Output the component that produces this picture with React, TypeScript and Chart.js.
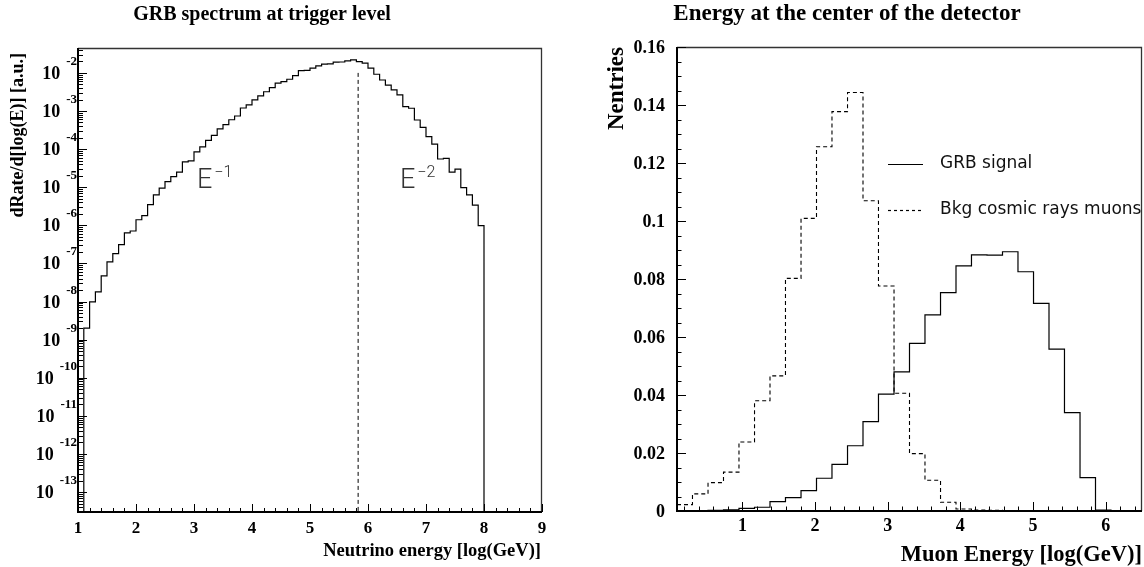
import React, { useEffect, useRef } from 'react';
import { Chart, registerables } from 'chart.js';
Chart.register(...registerables);

// ---------- Left panel: GRB spectrum ----------
const LEFT_TITLE = 'GRB spectrum at trigger level';
const LEFT_X_TITLE = 'Neutrino energy [log(GeV)]';
const LEFT_Y_TITLE = 'dRate/d[log(E)] [a.u.]';
const LEFT_BIN_EDGES = [
  1.0, 1.1, 1.2, 1.3, 1.4, 1.5, 1.6, 1.7, 1.8, 1.9,
  2.0, 2.1, 2.2, 2.3, 2.4, 2.5, 2.6, 2.7, 2.8, 2.9,
  3.0, 3.1, 3.2, 3.3, 3.4, 3.5, 3.6, 3.7, 3.8, 3.9,
  4.0, 4.1, 4.2, 4.3, 4.4, 4.5, 4.6, 4.7, 4.8, 4.9,
  5.0, 5.1, 5.2, 5.3, 5.4, 5.5, 5.6, 5.7, 5.8, 5.9,
  6.0, 6.1, 6.2, 6.3, 6.4, 6.5, 6.6, 6.7, 6.8, 6.9,
  7.0, 7.1, 7.2, 7.3, 7.4, 7.5, 7.6, 7.7, 7.8, 7.9,
  8.0,
];
const LEFT_RATES = [
  0, 2.0e-9, 9.8e-9, 1.8e-8, 4.7e-8, 1.1e-7, 1.8e-7, 3.1e-7, 6.3e-7, 7.1e-7,
  1.4e-6, 1.8e-6, 3.5e-6, 6.3e-6, 9.5e-6, 1.4e-5, 1.9e-5, 2.5e-5, 4.6e-5, 4.9e-5,
  8.5e-5, 1.15e-4, 1.7e-4, 2.3e-4, 3.4e-4, 4.4e-4, 5.9e-4, 7.4e-4, 1.2e-3, 1.45e-3,
  1.95e-3, 2.5e-3, 3.2e-3, 4.1e-3, 5.4e-3, 5.9e-3, 6.8e-3, 8.5e-3, 1.14e-2, 1.16e-2,
  1.33e-2, 1.53e-2, 1.69e-2, 1.72e-2, 1.91e-2, 1.93e-2, 2.07e-2, 2.19e-2, 1.98e-2, 1.80e-2,
  1.33e-2, 9.2e-3, 6.5e-3, 4.8e-3, 3.6e-3, 2.65e-3, 1.30e-3, 1.18e-3, 5.8e-4, 3.7e-4,
  2.13e-4, 1.35e-4, 5.5e-5, 5.7e-5, 2.5e-5, 3.0e-5, 9.8e-6, 6.3e-6, 3.4e-6, 9.8e-7,
];
const LEFT_X_TICKS = [1, 2, 3, 4, 5, 6, 7, 8, 9];
const LEFT_Y_EXPONENTS = [-2, -3, -4, -5, -6, -7, -8, -9, -10, -11, -12, -13];
const LEFT_X_MIN = 1;
const LEFT_X_MAX = 9;
const LEFT_Y_MIN = 3.0e-14;
const LEFT_Y_MAX = 4.5e-2;
const LEFT_MARKER_ENERGY = 5.83;
const LEFT_MARKER_TOP = 1e-2;
const LEFT_NOTES = [
  { base: 'E', sup: '\u22121', x: 3.05, y: 9.5e-6 },
  { base: 'E', sup: '\u22122', x: 6.55, y: 9.5e-6 },
];

// ---------- Right panel: muon energy ----------
const RIGHT_TITLE = 'Energy at the center of the detector';
const RIGHT_X_TITLE = 'Muon Energy [log(GeV)]';
const RIGHT_Y_TITLE = 'Nentries';
const RIGHT_BIN_EDGES = [
  0.1, 0.313, 0.527, 0.74, 0.953, 1.167, 1.38, 1.593, 1.807, 2.02,
  2.233, 2.447, 2.66, 2.873, 3.087, 3.3, 3.513, 3.727, 3.94, 4.153,
  4.367, 4.58, 4.793, 5.007, 5.22, 5.433, 5.647, 5.86, 6.073, 6.287,
  6.5,
];
const RIGHT_SIGNAL = [
  0, 0.0001, 0.0002, 0.0004, 0.0009, 0.0013, 0.0032, 0.0046, 0.007, 0.0113,
  0.0161, 0.0225, 0.0308, 0.0403, 0.048, 0.0578, 0.0676, 0.0753, 0.0845, 0.0883,
  0.0882, 0.0894, 0.0825, 0.0716, 0.0558, 0.0339, 0.0115, 0.0003, 0, 0,
];
const RIGHT_BKG = [
  0.0022, 0.0059, 0.0098, 0.0134, 0.0238, 0.038, 0.0466, 0.0802, 0.1009, 0.1256,
  0.1377, 0.1443, 0.107, 0.0776, 0.0406, 0.0198, 0.0106, 0.003, 0.0007, 0.0003,
  0.0002, 0, 0, 0, 0, 0, 0, 0, 0, 0,
];
const RIGHT_X_TICKS = [1, 2, 3, 4, 5, 6];
const RIGHT_Y_TICKS = [0, 0.02, 0.04, 0.06, 0.08, 0.1, 0.12, 0.14, 0.16];
const RIGHT_Y_LABELS = ['0', '0.02', '0.04', '0.06', '0.08', '0.1', '0.12', '0.14', '0.16'];
const RIGHT_X_MIN = 0.1;
const RIGHT_X_MAX = 6.5;
const RIGHT_Y_MIN = 0;
const RIGHT_Y_MAX = 0.16;
const LEGEND_LABELS = ['GRB signal', 'Bkg cosmic rays muons'];

const SERIF = '"Liberation Serif", "DejaVu Serif", serif';
const SANS = '"DejaVu Sans", "Liberation Sans", sans-serif';
const LOG_FLOOR = 1e-20;

function makeHist(edges: number[], values: number[], floor: number) {
  const pts = values.map((v, i) => ({ x: edges[i], y: v > 0 ? v : floor }));
  pts.push({ x: edges[edges.length - 1], y: floor });
  return pts;
}

function seg(ctx: CanvasRenderingContext2D, x1: number, y1: number, x2: number, y2: number) {
  ctx.beginPath();
  ctx.moveTo(x1, y1);
  ctx.lineTo(x2, y2);
  ctx.stroke();
}

function drawFrame(ctx: CanvasRenderingContext2D, a: any) {
  ctx.strokeStyle = '#333';
  ctx.lineWidth = 1.3;
  ctx.beginPath();
  ctx.moveTo(a.left, a.top + 0.5);
  ctx.lineTo(a.right - 0.5, a.top + 0.5);
  ctx.lineTo(a.right - 0.5, a.bottom);
  ctx.stroke();
  ctx.strokeStyle = '#000';
  ctx.lineWidth = 2;
  ctx.beginPath();
  ctx.moveTo(a.left, a.top);
  ctx.lineTo(a.left, a.bottom);
  ctx.lineTo(a.right, a.bottom);
  ctx.stroke();
}

function drawLeftDecor(chart: any) {
  const { ctx, chartArea: a } = chart;
  const xs = chart.scales.x;
  const ys = chart.scales.y;
  ctx.save();
  drawFrame(ctx, a);
  ctx.strokeStyle = '#000';
  ctx.lineWidth = 1;
  // x ticks
  for (let i = 0; i < LEFT_X_TICKS.length; i++) {
    const v = LEFT_X_TICKS[i];
    const px = Math.round(xs.getPixelForValue(v)) + 0.5;
    seg(ctx, px, a.bottom, px, a.bottom - 8);
    if (i < LEFT_X_TICKS.length - 1) {
      for (let k = 1; k < 5; k++) {
        const pm = Math.round(xs.getPixelForValue(v + k * 0.2)) + 0.5;
        seg(ctx, pm, a.bottom, pm, a.bottom - 4);
      }
    }
  }
  // y ticks (log)
  for (let e = -14; e <= -2; e++) {
    for (let k = 1; k <= 9; k++) {
      const v = k * Math.pow(10, e);
      if (v < LEFT_Y_MIN || v > LEFT_Y_MAX) continue;
      const py = Math.round(ys.getPixelForValue(v)) + 0.5;
      seg(ctx, a.left, py, a.left + (k === 1 ? 9 : 5), py);
    }
  }
  // labels
  ctx.fillStyle = '#000';
  ctx.textBaseline = 'alphabetic';
  ctx.textAlign = 'center';
  ctx.font = `bold 17px ${SERIF}`;
  for (const v of LEFT_X_TICKS) {
    ctx.fillText(String(v), xs.getPixelForValue(v), a.bottom + 21);
  }
  for (const e of LEFT_Y_EXPONENTS) {
    const py = ys.getPixelForValue(Math.pow(10, e));
    ctx.textAlign = 'right';
    ctx.font = `bold 13px ${SERIF}`;
    const es = String(e);
    ctx.fillText(es, a.left - 1, py - 8);
    const ew = ctx.measureText(es).width;
    ctx.font = `bold 18px ${SERIF}`;
    ctx.fillText('10', a.left - 1 - ew - 6, py + 6);
  }
  // titles
  ctx.textAlign = 'center';
  ctx.font = `bold 20px ${SERIF}`;
  ctx.fillText(LEFT_TITLE, 262, 20);
  ctx.textAlign = 'right';
  ctx.font = `bold 18.5px ${SERIF}`;
  ctx.fillText(LEFT_X_TITLE, a.right - 1, a.bottom + 44);
  ctx.save();
  ctx.translate(23, a.top + 5);
  ctx.rotate(-Math.PI / 2);
  ctx.textAlign = 'right';
  ctx.font = `bold 18px ${SERIF}`;
  ctx.fillText(LEFT_Y_TITLE, 0, 0);
  ctx.restore();
  // E^-n annotations
  ctx.fillStyle = '#333';
  ctx.textAlign = 'left';
  for (const n of LEFT_NOTES) {
    const px = xs.getPixelForValue(n.x);
    const py = ys.getPixelForValue(n.y);
    ctx.font = `300 27px Roboto, ${SANS}`;
    ctx.fillText(n.base, px, py);
    const bw = ctx.measureText(n.base).width;
    ctx.font = `300 16px Roboto, ${SANS}`;
    ctx.fillText(n.sup, px + bw + 2, py - 11);
  }
  ctx.restore();
}

function drawRightDecor(chart: any) {
  const { ctx, chartArea: a } = chart;
  const xs = chart.scales.x;
  const ys = chart.scales.y;
  ctx.save();
  drawFrame(ctx, a);
  ctx.strokeStyle = '#000';
  ctx.lineWidth = 1;
  // x ticks every 0.2, long at integers
  for (let k = 1; k * 0.2 <= RIGHT_X_MAX + 1e-9; k++) {
    const v = k * 0.2;
    if (v < RIGHT_X_MIN) continue;
    const major = k % 5 === 0;
    const px = Math.round(xs.getPixelForValue(v)) + 0.5;
    seg(ctx, px, a.bottom, px, a.bottom - (major ? 9 : 4.5));
  }
  // y ticks every 0.005, long every 0.02
  for (let k = 0; k <= 32; k++) {
    const v = k * 0.005;
    const major = k % 4 === 0;
    const py = Math.round(ys.getPixelForValue(v)) + 0.5;
    seg(ctx, a.left, py, a.left + (major ? 9 : 4.5), py);
  }
  ctx.fillStyle = '#000';
  ctx.textBaseline = 'alphabetic';
  ctx.textAlign = 'center';
  ctx.font = `bold 18px ${SERIF}`;
  for (const v of RIGHT_X_TICKS) {
    ctx.fillText(String(v), xs.getPixelForValue(v), a.bottom + 20);
  }
  ctx.textAlign = 'right';
  ctx.textBaseline = 'middle';
  RIGHT_Y_TICKS.forEach((v, i) => {
    ctx.fillText(RIGHT_Y_LABELS[i], a.left - 12, ys.getPixelForValue(v) + 1);
  });
  ctx.textBaseline = 'alphabetic';
  // titles
  ctx.textAlign = 'center';
  ctx.font = `bold 23px ${SERIF}`;
  ctx.fillText(RIGHT_TITLE, 275, 20);
  ctx.textAlign = 'right';
  ctx.font = `bold 22.5px ${SERIF}`;
  ctx.fillText(RIGHT_X_TITLE, a.right, a.bottom + 50);
  ctx.save();
  ctx.translate(51, a.top);
  ctx.rotate(-Math.PI / 2);
  ctx.textAlign = 'right';
  ctx.font = `bold 23px ${SERIF}`;
  ctx.fillText(RIGHT_Y_TITLE, 0, 0);
  ctx.restore();
  // legend
  const lx = 316;
  const rows = [164, 210];
  ctx.lineWidth = 1.2;
  ctx.strokeStyle = '#000';
  seg(ctx, lx, rows[0] + 0.5, lx + 35, rows[0] + 0.5);
  ctx.setLineDash([3, 3]);
  seg(ctx, lx, rows[1] + 0.5, lx + 35, rows[1] + 0.5);
  ctx.setLineDash([]);
  ctx.fillStyle = '#111';
  ctx.textAlign = 'left';
  ctx.textBaseline = 'middle';
  ctx.font = `17px ${SANS}`;
  LEGEND_LABELS.forEach((t, i) => ctx.fillText(t, lx + 52, rows[i]));
  ctx.restore();
}

export default function App() {
  const leftRef = useRef<HTMLCanvasElement>(null);
  const rightRef = useRef<HTMLCanvasElement>(null);

  useEffect(() => {
    const left = new Chart(leftRef.current as HTMLCanvasElement, {
      type: 'line',
      data: {
        datasets: [
          {
            data: makeHist(LEFT_BIN_EDGES, LEFT_RATES, LOG_FLOOR),
            stepped: 'before',
            borderColor: '#000',
            borderWidth: 1.2,
            pointRadius: 0,
            fill: false,
          },
          {
            data: [
              { x: LEFT_MARKER_ENERGY, y: LEFT_MARKER_TOP },
              { x: LEFT_MARKER_ENERGY, y: LOG_FLOOR },
            ],
            borderColor: '#000',
            borderWidth: 1,
            borderDash: [4, 3],
            pointRadius: 0,
            fill: false,
          },
        ],
      } as any,
      options: {
        responsive: false,
        animation: false,
        devicePixelRatio: 1,
        events: [],
        layout: { padding: { left: 78, top: 48, right: 30, bottom: 55 } },
        scales: {
          x: { type: 'linear', min: LEFT_X_MIN, max: LEFT_X_MAX, display: false },
          y: { type: 'logarithmic', min: LEFT_Y_MIN, max: LEFT_Y_MAX, display: false, bounds: 'data' } as any,
        },
        plugins: { legend: { display: false }, tooltip: { enabled: false } },
      },
      plugins: [{ id: 'leftDecor', afterDraw: drawLeftDecor }],
    });

    const right = new Chart(rightRef.current as HTMLCanvasElement, {
      type: 'line',
      data: {
        datasets: [
          {
            data: makeHist(RIGHT_BIN_EDGES, RIGHT_BKG, 0),
            stepped: 'before',
            borderColor: '#000',
            borderWidth: 1.1,
            borderDash: [4, 3],
            pointRadius: 0,
            fill: false,
          },
          {
            data: makeHist(RIGHT_BIN_EDGES, RIGHT_SIGNAL, 0),
            stepped: 'before',
            borderColor: '#000',
            borderWidth: 1.2,
            pointRadius: 0,
            fill: false,
          },
        ],
      } as any,
      options: {
        responsive: false,
        animation: false,
        devicePixelRatio: 1,
        events: [],
        layout: { padding: { left: 105, top: 47, right: 2, bottom: 56 } },
        scales: {
          x: { type: 'linear', min: RIGHT_X_MIN, max: RIGHT_X_MAX, display: false },
          y: { type: 'linear', min: RIGHT_Y_MIN, max: RIGHT_Y_MAX, display: false },
        },
        plugins: { legend: { display: false }, tooltip: { enabled: false } },
      },
      plugins: [{ id: 'rightDecor', afterDraw: drawRightDecor }],
    });

    return () => {
      left.destroy();
      right.destroy();
    };
  }, []);

  return (
    <div
      style={{
        position: 'fixed',
        left: 0,
        top: 0,
        width: 1144,
        height: 567,
        background: '#fff',
        overflow: 'hidden',
      }}
    >
      <canvas ref={leftRef} width={572} height={567} style={{ position: 'absolute', left: 0, top: 0 }} />
      <canvas ref={rightRef} width={572} height={567} style={{ position: 'absolute', left: 572, top: 0 }} />
    </div>
  );
}
